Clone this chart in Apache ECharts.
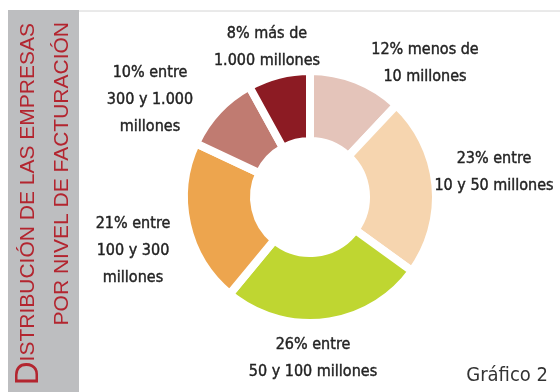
<!DOCTYPE html>
<html>
<head>
<meta charset="utf-8">
<script src="https://cdn.jsdelivr.net/npm/echarts@6/dist/echarts.min.js"></script>
<style>
  html, body { margin: 0; padding: 0; background: #fff; }
  #chart { width: 560px; height: 392px; }
</style>
</head>
<body>
<div id="chart"></div>
<script>
// Revenue brackets, clockwise from 12 o'clock
const categories = [
  '12% menos de\n10 millones',
  '23% entre\n10 y 50 millones',
  '26% entre\n50 y 100 millones',
  '21% entre\n100 y 300\nmillones',
  '10% entre\n300 y 1.000\nmillones',
  '8% más de\n1.000 millones'
];
const shares = [12, 23, 26, 21, 10, 8];
const sliceColors = ['#E4C4BA', '#F6D5AF', '#BFD631', '#EDA54E', '#C07B71', '#8C1B23'];

const titleLine1Initial = 'D';
const titleLine1Rest = 'ISTRIBUCIÓN DE LAS EMPRESAS';
const titleLine2 = 'POR NIVEL DE FACTURACIÓN';
const footerText = 'Gráfico 2';

const labelFont = "'DejaVu Sans Condensed', 'Liberation Sans Narrow', sans-serif";

// Where each label block sits (centre), in slice order
const labelSpots = [
  [425, 63], [494, 172], [313, 358], [133, 251], [150, 100], [267, 47]
];

const chart = echarts.init(document.getElementById('chart'), null, { renderer: 'canvas' });

chart.setOption({
  animation: false,
  backgroundColor: '#ffffff',
  graphic: [
    { type: 'rect', shape: { x: 8, y: 10, width: 71, height: 382 }, style: { fill: '#BDBEC0' }, z: 0 },
    { type: 'line', shape: { x1: 79, y1: 11, x2: 560, y2: 11 }, style: { stroke: '#D4D4D4', lineWidth: 1 }, z: 0 },
    {
      type: 'text', x: 45, y: 23, rotation: Math.PI / 2, z: 2,
      style: {
        text: '{big|' + titleLine1Initial + '}{small|' + titleLine1Rest + '}',
        align: 'right', verticalAlign: 'bottom',
        rich: {
          big: { fontSize: 33, fontFamily: "'Liberation Sans', sans-serif", fill: '#B3252F' },
          small: { fontSize: 21, fontFamily: "'Liberation Sans', sans-serif", fill: '#B3252F' }
        }
      }
    },
    {
      type: 'text', x: 73, y: 22, rotation: Math.PI / 2, z: 2,
      style: {
        text: titleLine2,
        align: 'right', verticalAlign: 'bottom',
        fontSize: 21, fontFamily: "'Liberation Sans', sans-serif", fill: '#B3252F'
      }
    },
    {
      type: 'text', x: 548, y: 376, z: 2,
      style: {
        text: footerText, align: 'right', verticalAlign: 'middle',
        fontSize: 20, fontFamily: labelFont, fill: '#333333'
      }
    }
  ],
  series: [{
    type: 'pie',
    center: [310, 197],
    radius: [56, 126],
    startAngle: 90,
    clockwise: true,
    silent: true,
    itemStyle: { borderColor: '#ffffff', borderWidth: 8 },
    label: {
      show: true,
      position: 'outside',
      formatter: p => p.name,
      fontFamily: labelFont,
      fontSize: 16,
      lineHeight: 27,
      color: '#222222',
      textBorderColor: '#222222',
      textBorderWidth: 0.4,
      align: 'center',
      overflow: 'none'
    },
    labelLine: { show: false },
    labelLayout: p => ({
      x: labelSpots[p.dataIndex][0],
      y: labelSpots[p.dataIndex][1],
      align: 'center',
      verticalAlign: 'middle'
    }),
    data: categories.map((name, i) => ({
      name: name,
      value: shares[i],
      itemStyle: { color: sliceColors[i] }
    }))
  }]
});
</script>
</body>
</html>
